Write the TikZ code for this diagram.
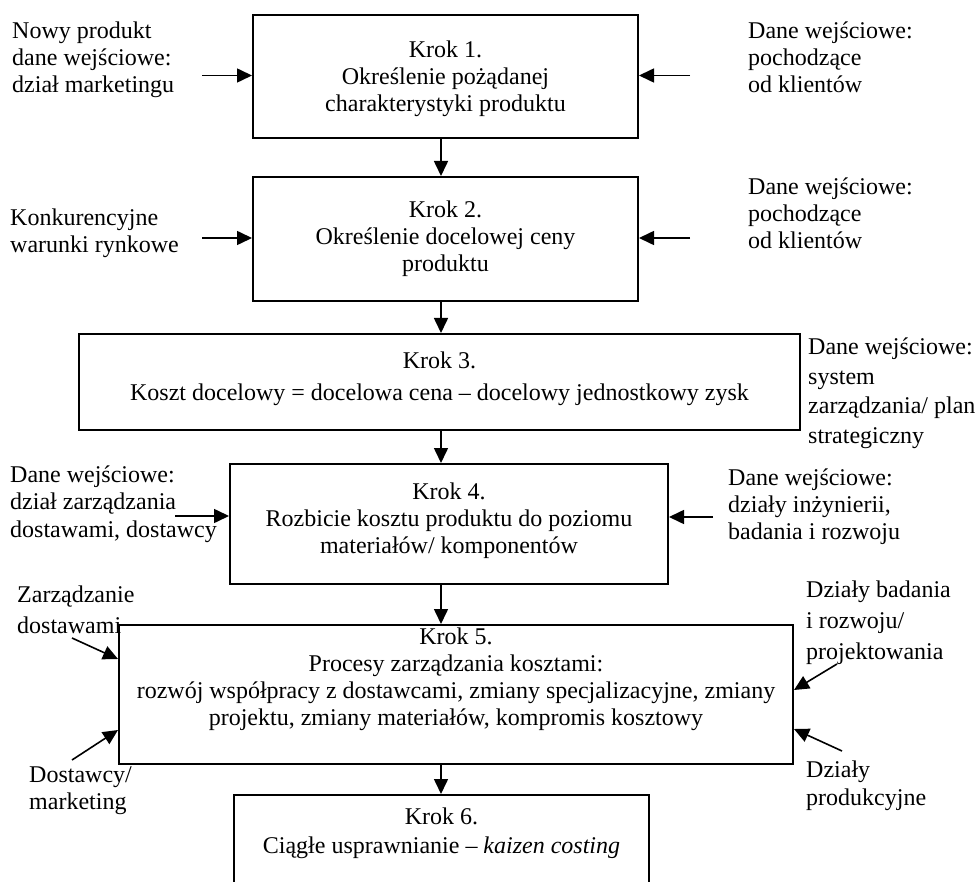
\documentclass[tikz,border=0pt]{standalone}
\usepackage{fontspec}
\setmainfont{Liberation Serif}
\usetikzlibrary{arrows.meta}
\newcommand{\bxtext}[4]{\parbox[c][#2][t]{#1}{\vspace*{#3}\centering\strut #4\par}}
\begin{document}
\begin{tikzpicture}[x=1pt,y=-1pt,
  font=\fontsize{24}{27}\selectfont,
  stepbox/.style={draw, line width=2pt, inner sep=0pt, anchor=north west},
  lbl/.style={anchor=north west, inner sep=0pt, align=left},
  arr/.style={line width=1.6pt, -{Triangle[length=15pt,width=14pt]}}]
\clip (0,0) rectangle (977,882);
% boxes
\node[stepbox] (b1) at (252,14) {\bxtext{385pt}{123pt}{23.5pt}{Krok 1.\\Określenie pożądanej\\charakterystyki produktu}};
\node[stepbox] (b2) at (252,176) {\bxtext{385pt}{124pt}{22pt}{Krok 2.\\Określenie docelowej ceny\\produktu}};
\node[stepbox] (b3) at (78,333) {\bxtext{721pt}{96pt}{16pt}{Krok 3.\\[5pt]Koszt docelowy = docelowa cena – docelowy jednostkowy zysk}};
\node[stepbox] (b4) at (229,463) {\bxtext{438pt}{120pt}{17pt}{Krok 4.\\Rozbicie kosztu produktu do poziomu\\materiałów/ komponentów}};
\node[stepbox] (b5) at (118,624) {\bxtext{674pt}{139pt}{1pt}{Krok 5.\\Procesy zarządzania kosztami:\\rozwój współpracy z dostawcami, zmiany specjalizacyjne, zmiany\\projektu, zmiany materiałów, kompromis kosztowy}};
\node[stepbox] (b6) at (233,794) {\bxtext{415pt}{120pt}{11pt}{Krok 6.\\[2pt]Ciągłe usprawnianie – \textit{kaizen costing}}};
% labels
\node[lbl] (l1) at (12,19.2) {\strut Nowy produkt\\dane wejściowe:\\dział marketingu};
\node[lbl] (r1) at (748,19.2) {\strut Dane wejściowe:\\pochodzące\\od klientów};
\node[lbl] (l2) at (10,206.2) {\strut Konkurencyjne\\warunki rynkowe};
\node[lbl] (r2) at (748,175.2) {\strut Dane wejściowe:\\pochodzące\\od klientów};
\node[lbl] (r3) at (808,335.5) {\strut Dane wejściowe:\\[2.5pt]system\\[2.5pt]zarządzania/ plan\\[2.5pt]strategiczny};
\node[lbl] (l4) at (10,463.2) {\strut Dane wejściowe:\\[0.5pt]dział zarządzania\\[0.5pt]dostawami, dostawcy};
\node[lbl] (r4) at (728,466.2) {\strut Dane wejściowe:\\działy inżynierii,\\badania i rozwoju};
\node[lbl] (l5a) at (17,583.2) {\strut Zarządzanie\\[4pt]dostawami};
\node[lbl] (r5a) at (806,578.2) {\strut Działy badania\\[4pt]i rozwoju/\\[4pt]projektowania};
\node[lbl] (l5b) at (29,763.2) {\strut Dostawcy/\\marketing};
\node[lbl] (r5b) at (806,758.2) {\strut Działy\\[1pt]produkcyjne};
% vertical connectors
\coordinate (ax) at (441,0);
\draw[arr] (b1.south -| ax) -- (b2.north -| ax);
\draw[arr] (b2.south -| ax) -- (b3.north -| ax);
\draw[arr] (b3.south -| ax) -- (b4.north -| ax);
\draw[arr] (b4.south -| ax) -- (b5.north -| ax);
\draw[arr] (b5.south -| ax) -- (b6.north -| ax);
% side connectors
\coordinate (t1l) at (202,75.5);
\coordinate (t1r) at (690,75.5);
\coordinate (t2l) at (202,238);
\coordinate (t2r) at (690,238);
\coordinate (t4l) at (175,516);
\coordinate (t4r) at (713,517);
\draw[arr] (t1l) -- (t1l -| b1.west);
\draw[arr] (t1r) -- (t1r -| b1.east);
\draw[arr] (t2l) -- (t2l -| b2.west);
\draw[arr] (t2r) -- (t2r -| b2.east);
\draw[arr] (t4l) -- (t4l -| b4.west);
\draw[arr] (t4r) -- (t4r -| b4.east);
\coordinate (t5a) at (72,638);
\coordinate (h5a) at (118,659);
\coordinate (t5b) at (72,760);
\coordinate (h5b) at (118,730);
\coordinate (t5c) at (837,664);
\coordinate (h5c) at (792,690);
\coordinate (t5d) at (842,751);
\coordinate (h5d) at (792,729);
\draw[arr] (t5a) -- (h5a -| b5.west);
\draw[arr] (t5b) -- (h5b -| b5.west);
\draw[arr] (t5c) -- (h5c -| b5.east);
\draw[arr] (t5d) -- (h5d -| b5.east);
\end{tikzpicture}
\end{document}
